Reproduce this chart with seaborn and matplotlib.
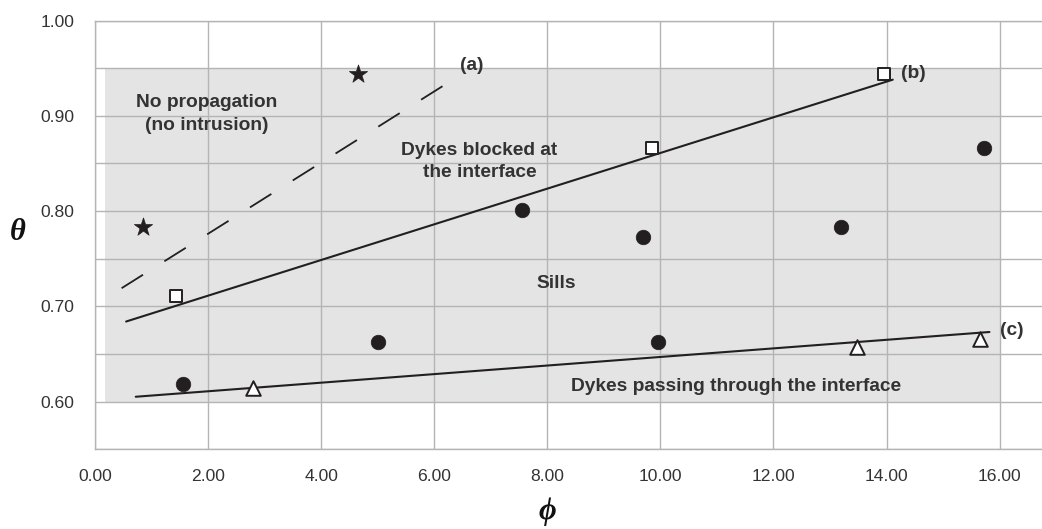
import numpy as np
import pandas as pd
import seaborn as sns
import matplotlib.pyplot as plt
from matplotlib.patches import Rectangle

# --- data ---
star_phi = [0.85, 4.65]
star_theta = [0.783, 0.944]
square_phi = [1.43, 9.85, 13.95]
square_theta = [0.711, 0.866, 0.944]
circle_phi = [1.55, 5.0, 7.55, 9.7, 9.95, 13.2, 15.72]
circle_theta = [0.618, 0.663, 0.801, 0.773, 0.663, 0.783, 0.866]
triangle_phi = [2.8, 13.47, 15.65]
triangle_theta = [0.614, 0.657, 0.666]

line_a_phi = [0.47, 6.33]
line_a_theta = [0.719, 0.938]
line_b_phi = [0.55, 14.11]
line_b_theta = [0.684, 0.938]
line_c_phi = [0.72, 15.82]
line_c_theta = [0.605, 0.673]

INK = "#231f20"
GRID = "#b4b4b4"

sns.set_style("white")
plt.rcParams["font.family"] = ["Liberation Sans", "DejaVu Sans"]

fig = plt.figure(figsize=(10.42, 5.29), dpi=100)
ax = fig.add_axes([0.0912, 0.151, 0.9088, 0.810])

# shaded domain
ax.add_patch(Rectangle((0.18, 0.60), 16.0 - 0.18, 0.35,
                       facecolor="#e4e4e4", edgecolor="none", zorder=0.2))

# trend lines
sns.lineplot(x=line_a_phi, y=line_a_theta, ax=ax, color=INK, lw=1.3,
             linestyle=(0, (14, 14)), zorder=3)
sns.lineplot(x=line_b_phi, y=line_b_theta, ax=ax, color=INK, lw=1.5, zorder=3)
sns.lineplot(x=line_c_phi, y=line_c_theta, ax=ax, color=INK, lw=1.5, zorder=3)

# markers
sns.scatterplot(x=star_phi, y=star_theta, ax=ax, marker="*", s=190,
                color=INK, edgecolor=INK, linewidth=0.5, zorder=4)
sns.scatterplot(x=square_phi, y=square_theta, ax=ax, marker="s", s=85,
                facecolor="white", edgecolor=INK, linewidth=1.4, zorder=4)
sns.scatterplot(x=circle_phi, y=circle_theta, ax=ax, marker="o", s=110,
                color=INK, edgecolor=INK, linewidth=0.5, zorder=4)
sns.scatterplot(x=triangle_phi, y=triangle_theta, ax=ax, marker="^", s=110,
                facecolor="white", edgecolor=INK, linewidth=1.4, zorder=4)

# annotations
txt = dict(color="#333333", fontsize=13.8, fontweight="bold", zorder=5)
ax.text(1.98, 0.902, "No propagation\n(no intrusion)", ha="center", va="center",
        linespacing=1.4, **txt)
ax.text(6.8, 0.852, "Dykes blocked at\nthe interface", ha="center", va="center",
        linespacing=1.4, **txt)
ax.text(8.15, 0.724, "Sills", ha="center", va="center", **txt)
ax.text(14.26, 0.616, "Dykes passing through the interface", ha="right",
        va="center", **txt)
ax.text(6.45, 0.953, "(a)", ha="left", va="center", **txt)
ax.text(14.26, 0.945, "(b)", ha="left", va="center", **txt)
ax.text(16.0, 0.675, "(c)", ha="left", va="center", **txt)

# axes
ax.set_xlim(0, 16.75)
ax.set_ylim(0.55, 1.00)
ax.set_xticks(np.arange(0, 17, 2))
ax.set_xticklabels([f"{v:.2f}" for v in np.arange(0, 17, 2)])
ax.set_yticks(np.arange(0.6, 1.01, 0.1))
ax.set_yticklabels([f"{v:.2f}" for v in np.arange(0.6, 1.01, 0.1)])
ax.set_yticks(np.arange(0.55, 1.0, 0.1), minor=True)
ax.set_axisbelow(True)
ax.grid(True, which="both", color=GRID, lw=1.0)
ax.tick_params(axis="both", which="both", colors=GRID, length=8, width=1.0,
               labelcolor="#333333", labelsize=12.6)
ax.tick_params(axis="x", pad=6)
ax.tick_params(axis="y", pad=7)
for side in ["left", "bottom", "top"]:
    ax.spines[side].set_color(GRID)
    ax.spines[side].set_linewidth(1.0)
ax.spines["right"].set_visible(False)

# axis titles as serif bold italic greek
greek = dict(family=["Liberation Serif", "DejaVu Serif"], style="italic",
             fontweight="bold", fontsize=22, color="#111111",
             ha="center", va="center")
fig.text(547 / 1042, 1 - 512 / 529, "\u03d5", **greek)
fig.text(18 / 1042, 1 - 233 / 529, "\u03b8", **greek)

fig.savefig("out.png", dpi=100)
